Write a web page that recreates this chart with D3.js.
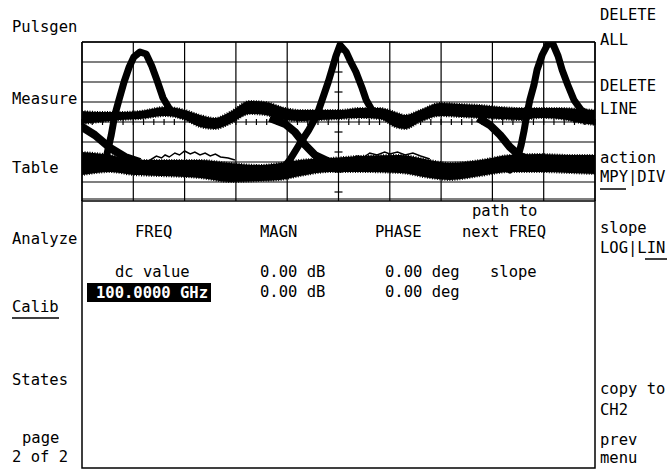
<!DOCTYPE html>
<html><head><meta charset="utf-8">
<script src="https://cdn.jsdelivr.net/npm/d3@7"></script>
<style>
html,body{margin:0;padding:0;background:#fff;}
svg text{font-family:"DejaVu Sans Mono","Liberation Mono",monospace;font-size:15.5px;}
</style></head>
<body><svg id="c" width="667" height="470"></svg>
<script>
// ---- data (time in ps: 10/div, level in mV-like units: 10/div) ----
const timeDomain = [0, 100];
const levelDomain = [-40, 40];

// middle band: [time, upper level, lower level]
const midBand = [[0,5.5,-1],[3.5,5,0],[7.4,5,1],[11.3,5.5,1.5],[16.2,7.5,3],[20.1,6,1],[23.0,3.5,-2.5],[25.9,2,-3.5],[28.8,5,-1],[32.7,10.5,4],[35.7,10,3.5],[39.6,7,1],[42.5,6,0.5],[46.4,6,1],[50.3,6,1.5],[54.2,7,2],[58.1,7,1.5],[61.0,5,-2.5],[63.0,3.5,-3.5],[65.9,6,0],[69.8,9.5,3],[73.7,9,2.5],[77.6,8.5,2],[81.5,7.5,1.5],[85.4,7,1],[89.3,7,2],[93.2,7,1.5],[97.1,6.5,-0.5],[100,6,-1.5]];

// lower band: [time, upper level, lower level]
const lowBand = [[0,-15,-26.5],[5.5,-16.5,-25],[10.1,-19,-26.5],[15.2,-19,-27],[23.0,-19,-28],[28.8,-20.5,-30],[34.7,-21.5,-29.5],[38.6,-20.5,-29],[42.5,-19,-27],[48.3,-18,-25],[54.2,-17,-25],[62.0,-16.5,-25.5],[67.8,-19,-28],[71.7,-20.5,-29],[77.6,-19,-27],[83.4,-16.5,-25],[89.3,-16,-25],[95.1,-16.5,-25.5],[100,-16.5,-26]];

// falling transitions (middle -> low)
const crossing1 = [[-2,0],[0,-2.5],[2.5,-6.5],[5.5,-13],[8.4,-17.5],[11.3,-20]];
const crossing2 = [[36.6,2],[39.6,-1],[41.5,-5],[43.5,-11.5],[45.4,-16.5],[48.3,-20]];
const crossing3 = [[77.2,2],[79.5,-1.5],[81.5,-6.5],[83.4,-12.5],[85.4,-17],[88.3,-20]];

// pulses (low -> peak -> middle)
const pulse1 = [[3.5,-22],[4.7,-18],[5.7,-6.5],[6.4,3.5],[7.2,11],[8.2,20],[9.2,27.5],[10.1,32.5],[11.3,35],[12.5,34],[13.6,28],[14.6,21],[15.8,12],[17.2,6],[19.1,3.5]];
const pulse2 = [[39.0,-24],[40.5,-19],[42.3,-11.5],[44.2,-4],[45.8,3.5],[46.8,11],[48.0,20],[48.7,26],[49.5,33],[50.3,38.5],[51.5,35],[52.4,30],[53.4,25],[54.6,17],[55.4,11],[56.5,6],[58.5,3.5]];
const pulse3 = [[83.4,-24],[84.8,-19],[85.6,-11.5],[86.2,-4],[86.7,3.5],[87.3,11],[88.1,18.5],[88.7,26],[89.7,33.5],[90.8,39],[91.8,39],[92.8,33],[93.6,26],[94.7,18.5],[95.9,11],[97.3,6],[99.0,3.5],[101,3]];

// thin noisy traces above the low band
const noise1 = [[13.3,-19],[14.5,-17],[15.5,-18],[16.2,-16.5],[17.0,-17.5],[18.1,-15.5],[19.0,-16.5],[20.0,-14.5],[21.1,-16],[22.0,-15],[23.0,-16.5],[24.0,-15.5],[25.0,-17],[26.0,-16],[27.0,-17.5],[28.5,-18],[29.8,-19]];
const noise2 = [[52.2,-19],[53.5,-17],[55,-17.5],[56.1,-15.5],[57.5,-16.5],[59,-15],[60,-16],[61.5,-15],[63,-16.5],[64.5,-15.5],[66,-17],[67.8,-18.5]];

// menu / table texts
const leftMenu = [["Pulsgen",12,32],["Measure",12,104],["Table",12,173],["Analyze",12,244],["Calib",12,312],["States",12,385],["page",22,443],["2 of 2",12,462]];
const rightMenu = [["DELETE",600,20],["ALL",600,45],["DELETE",600,91],["LINE",600,114],["action",600,163],["MPY|DIV",600,182],["slope",600,233],["LOG|LIN",600,253],["copy to",600,394],["CH2",600,415],["prev",600,445],["menu",600,463]];
const headers = [["FREQ",135,237],["MAGN",260,237],["PHASE",375,237],["path to",472,216],["next FREQ",462,237]];
const rowLabels = ["dc value","100.0000 GHz"];
const magnValues = ["0.00 dB","0.00 dB"];
const phaseValues = ["0.00 deg","0.00 deg"];
const pathValues = ["slope",""];

// ---- drawing ----
const svg = d3.select("#c");
const L = 82, R = 595, T = 42, B = 202;
const x = d3.scaleLinear().domain(timeDomain).range([L, R]);
const y = d3.scaleLinear().domain(levelDomain).range([B, T]);
const gBottom = 199;

svg.append("defs").append("clipPath").attr("id","clip")
  .append("rect").attr("x",L).attr("y",T).attr("width",R-L).attr("height",gBottom-T);

// graticule
const grid = svg.append("g").attr("stroke","#000").attr("stroke-width",1.2);
x.ticks(10).forEach(t => grid.append("line").attr("x1",x(t)).attr("x2",x(t)).attr("y1",T).attr("y2",201));
y.ticks(8).filter(v => v > -40).forEach(v => grid.append("line").attr("x1",L).attr("x2",R).attr("y1",y(v)).attr("y2",y(v)));
grid.append("line").attr("x1",L).attr("x2",R).attr("y1",gBottom).attr("y2",gBottom);
// centre ticks
d3.range(0, 101, 2).forEach(t => grid.append("line").attr("x1",x(t)).attr("x2",x(t)).attr("y1",y(0)-3).attr("y2",y(0)+3));
d3.range(-35, 40, 10).forEach(v => grid.append("line").attr("x1",x(50)-4).attr("x2",x(50)+4).attr("y1",y(v)).attr("y2",y(v)));

// traces
const tr = svg.append("g").attr("clip-path","url(#clip)");
const area = d3.area().x(d=>x(d[0])).y0(d=>y(d[2])).y1(d=>y(d[1])).curve(d3.curveMonotoneX);
[midBand, lowBand].forEach(b => tr.append("path").attr("d",area(b))
  .attr("fill","#000").attr("stroke","#000").attr("stroke-width",2).attr("stroke-dasharray","1 1.5"));
const line = d3.line().x(d=>x(d[0])).y(d=>y(d[1]));
[crossing1, crossing2, crossing3].forEach(c => tr.append("path").attr("d",line(c))
  .attr("fill","none").attr("stroke","#000").attr("stroke-width",8).attr("stroke-linejoin","round"));
[pulse1, pulse2, pulse3].forEach(p => tr.append("path").attr("d",line(p))
  .attr("fill","none").attr("stroke","#000").attr("stroke-width",7).attr("stroke-linejoin","round").attr("stroke-linecap","round"));
[noise1, noise2].forEach(n => tr.append("path").attr("d",line(n))
  .attr("fill","none").attr("stroke","#000").attr("stroke-width",1.5));

// table box
svg.append("rect").attr("x",L).attr("y",201).attr("width",R-L).attr("height",267)
  .attr("fill","none").attr("stroke","#000").attr("stroke-width",1.5);
svg.append("line").attr("x1",L).attr("x2",L).attr("y1",T).attr("y2",201).attr("stroke","#000").attr("stroke-width",1.5);
svg.append("line").attr("x1",R).attr("x2",R).attr("y1",T).attr("y2",201).attr("stroke","#000").attr("stroke-width",1.5);
svg.append("line").attr("x1",L).attr("x2",R).attr("y1",T).attr("y2",T).attr("stroke","#000").attr("stroke-width",1.5);

// texts
const txt = (s, tx, ty, fill) => svg.append("text").attr("x",tx).attr("y",ty).style("fill",fill||"#000").text(s);
leftMenu.forEach(d => txt(...d));
rightMenu.forEach(d => txt(...d));
headers.forEach(d => txt(...d));
// underlines
const ul = (x1,x2,yy) => svg.append("line").attr("x1",x1).attr("x2",x2).attr("y1",yy).attr("y2",yy).attr("stroke","#000").attr("stroke-width",1.5);
ul(12,59,318); ul(600,626,189); ul(645,668,259);

// rows
txt(rowLabels[0],115,277);
svg.append("rect").attr("x",87).attr("y",283).attr("width",124).attr("height",19).attr("fill","#000");
txt(rowLabels[1],96,298,"#fff").style("font-weight","bold");
magnValues.forEach((s,i) => txt(s,260,277+20*i));
phaseValues.forEach((s,i) => txt(s,385,277+20*i));
pathValues.forEach((s,i) => s && txt(s,490,277+20*i));
</script></body></html>
